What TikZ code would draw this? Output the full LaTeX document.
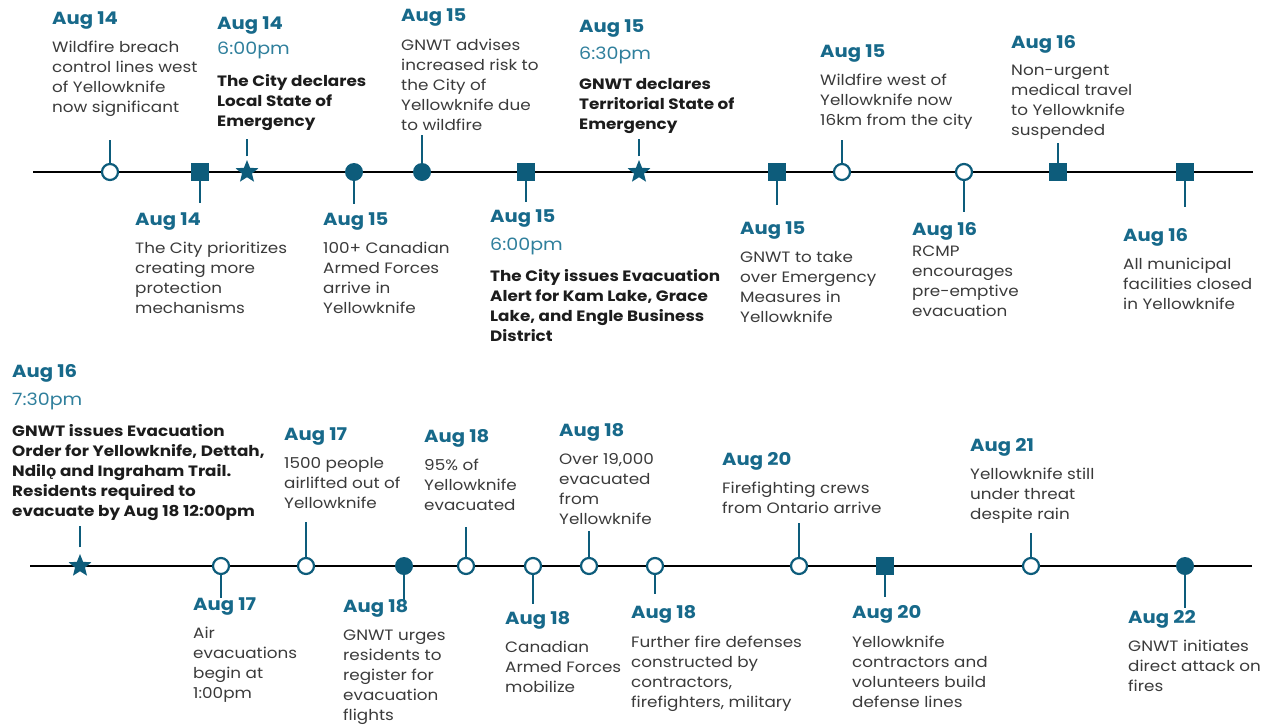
\documentclass[tikz,border=0pt]{standalone}
\usepackage{fontspec}
\setmainfont{Poppins}[FakeStretch=1.12]
\newfontfamily\extfont{DejaVu Sans}
\usetikzlibrary{shapes.geometric, positioning}

\definecolor{markcol}{HTML}{0D5C7B}
\definecolor{datecol}{HTML}{17698A}
\definecolor{timecol}{HTML}{2F7F9C}
\definecolor{bodycol}{HTML}{3A3A3A}
\definecolor{boldcol}{HTML}{1C1C1C}

\tikzstyle{datelbl} = [anchor=west, inner sep=0pt, text height=12pt, text depth=4pt, font=\bfseries\fontsize{17.5}{20}\selectfont, text=datecol]
\tikzstyle{timelbl} = [datelbl, font=\fontsize{17}{20}\selectfont, text=timecol]
\tikzstyle{desc} = [inner sep=0pt, align=left, font=\fontsize{15}{20}\selectfont, text=bodycol]
\tikzstyle{descbold} = [desc, font=\bfseries\fontsize{15}{20}\selectfont, text=boldcol]
\tikzstyle{opendot} = [circle, draw=markcol, fill=white, line width=2.2pt, minimum size=16pt, inner sep=0pt]
\tikzstyle{fulldot} = [circle, fill=markcol, minimum size=18pt, inner sep=0pt]
\tikzstyle{sqmark} = [rectangle, fill=markcol, minimum size=18pt, inner sep=0pt]
\tikzstyle{starmark} = [star, star points=5, star point ratio=2.3, fill=markcol, minimum size=24pt, inner sep=0pt]
\tikzstyle{stemline} = [draw=markcol, line width=2.2pt]
\tikzstyle{axis} = [draw=black, line width=2.5pt]

\begin{document}
\begin{tikzpicture}[x=1pt, y=-1pt, node distance=13pt]
\useasboundingbox (0,0) rectangle (1276,726);

% upper timeline
\coordinate (a1) at (33,172);
\coordinate (a2) at (1253,172);
\draw[axis] (a1) -- (a2);

\node[opendot] (m1) at (110,172) {};
\node[sqmark] (m2) at (200,172) {};
\node[starmark] (m3) at (247,172) {};
\node[fulldot] (m4) at (354,172) {};
\node[fulldot] (m5) at (422,172) {};
\node[sqmark] (m6) at (526,172) {};
\node[starmark] (m7) at (639,172) {};
\node[sqmark] (m8) at (777,172) {};
\node[opendot] (m9) at (842,172) {};
\node[opendot] (m10) at (964,172) {};
\node[sqmark] (m11) at (1058,172) {};
\node[sqmark] (m12) at (1185,172) {};

\draw[stemline] (m1.north) -- ++(0,-23);
\draw[stemline] (m2.south) -- ++(0,22);
\draw[stemline] ([yshift=3pt]m3.north) -- ++(0,-17);
\draw[stemline] (m4.south) -- ++(0,23);
\draw[stemline] (m5.north) -- ++(0,-28);
\draw[stemline] (m6.south) -- ++(0,21);
\draw[stemline] ([yshift=3pt]m7.north) -- ++(0,-17);
\draw[stemline] (m8.south) -- ++(0,24);
\draw[stemline] (m9.north) -- ++(0,-23);
\draw[stemline] (m10.south) -- ++(0,31);
\draw[stemline] (m11.north) -- ++(0,-20);
\draw[stemline] (m12.south) -- ++(0,26);

\node[datelbl] (d1) at (52,20) {Aug 14};
\node[desc, below=of d1.south west, anchor=north west] (t1) {Wildfire breach\\control lines west\\of Yellowknife\\now significant};
\node[datelbl] (d2) at (135,221) {Aug 14};
\node[desc, below=of d2.south west, anchor=north west] (t2) {The City prioritizes\\creating more\\protection\\mechanisms};
\node[datelbl] (d3) at (217,25) {Aug 14};
\node[timelbl, below=9pt of d3.south west, anchor=north west] (h3) {6:00pm};
\node[descbold, below=16pt of h3.south west, anchor=north west] (t3) {The City declares\\Local State of\\Emergency};
\node[datelbl] (d4) at (323,221) {Aug 15};
\node[desc, below=of d4.south west, anchor=north west] (t4) {100+ Canadian\\Armed Forces\\arrive in\\Yellowknife};
\node[datelbl] (d5) at (401,17) {Aug 15};
\node[desc, below=14pt of d5.south west, anchor=north west] (t5) {GNWT advises\\increased risk to\\the City of\\Yellowknife due\\to wildfire};
\node[datelbl] (d6) at (490,218) {Aug 15};
\node[timelbl, below=12pt of d6.south west, anchor=north west] (h6) {6:00pm};
\node[descbold, below=15pt of h6.south west, anchor=north west] (t6) {The City issues Evacuation\\Alert for Kam Lake, Grace\\Lake, and Engle Business\\District};
\node[datelbl] (d7) at (579,28) {Aug 15};
\node[timelbl, below=11pt of d7.south west, anchor=north west] (h7) {6:30pm};
\node[descbold, below=15pt of h7.south west, anchor=north west] (t7) {GNWT declares\\Territorial State of\\Emergency};
\node[datelbl] (d8) at (740,230) {Aug 15};
\node[desc, below=of d8.south west, anchor=north west] (t8) {GNWT to take\\over Emergency\\Measures in\\Yellowknife};
\node[datelbl] (d9) at (820,53) {Aug 15};
\node[desc, below=of d9.south west, anchor=north west] (t9) {Wildfire west of\\Yellowknife now\\16km from the city};
\node[datelbl] (d10) at (912,231) {Aug 16};
\node[desc, below=7pt of d10.south west, anchor=north west] (t10) {RCMP\\encourages\\pre-emptive\\evacuation};
\node[datelbl] (d11) at (1011,44) {Aug 16};
\node[desc, below=of d11.south west, anchor=north west] (t11) {Non-urgent\\medical travel\\to Yellowknife\\suspended};
\node[datelbl] (d12) at (1123,237) {Aug 16};
\node[desc, below=of d12.south west, anchor=north west] (t12) {All municipal\\facilities closed\\in Yellowknife};

% lower timeline
\coordinate (b1) at (30,566);
\coordinate (b2) at (1252,566);
\draw[axis] (b1) -- (b2);

\node[starmark] (n1) at (80,566) {};
\node[opendot] (n2) at (221,566) {};
\node[opendot] (n3) at (306,566) {};
\node[fulldot] (n4) at (404,566) {};
\node[opendot] (n5) at (466,566) {};
\node[opendot] (n6) at (533,566) {};
\node[opendot] (n7) at (589,566) {};
\node[opendot] (n8) at (655,566) {};
\node[opendot] (n9) at (799,566) {};
\node[sqmark] (n10) at (885,566) {};
\node[opendot] (n11) at (1031,566) {};
\node[fulldot] (n12) at (1185,566) {};

\draw[stemline] ([yshift=6pt]n1.north) -- ++(0,-21);
\draw[stemline] (n2.south) -- ++(0,23);
\draw[stemline] (n3.north) -- ++(0,-35);
\draw[stemline] (n4.south) -- ++(0,25);
\draw[stemline] (n5.north) -- ++(0,-30);
\draw[stemline] (n6.south) -- ++(0,29);
\draw[stemline] (n7.north) -- ++(0,-26);
\draw[stemline] (n8.south) -- ++(0,19);
\draw[stemline] (n9.north) -- ++(0,-34);
\draw[stemline] (n10.south) -- ++(0,22);
\draw[stemline] (n11.north) -- ++(0,-24);
\draw[stemline] (n12.south) -- ++(0,33);

\node[datelbl] (e1) at (12,373) {Aug 16};
\node[timelbl, below=12pt of e1.south west, anchor=north west] (k1) {7:30pm};
\node[descbold, below=15pt of k1.south west, anchor=north west] (s1) {GNWT issues Evacuation\\Order for Yellowknife, Dettah,\\Ndil{\extfont ǫ} and Ingraham Trail.\\Residents required to\\evacuate by Aug 18 12:00pm};
\node[datelbl] (e2) at (193,606) {Aug 17};
\node[desc, below=of e2.south west, anchor=north west] (s2) {Air\\evacuations\\begin at\\1:00pm};
\node[datelbl] (e3) at (284,436) {Aug 17};
\node[desc, below=of e3.south west, anchor=north west] (s3) {1500 people\\airlifted out of\\Yellowknife};
\node[datelbl] (e4) at (343,608) {Aug 18};
\node[desc, below=14pt of e4.south west, anchor=north west] (s4) {GNWT urges\\residents to\\register for\\evacuation\\flights};
\node[datelbl] (e5) at (424,438) {Aug 18};
\node[desc, below=of e5.south west, anchor=north west] (s5) {95\% of\\Yellowknife\\evacuated};
\node[datelbl] (e6) at (505,620) {Aug 18};
\node[desc, below=of e6.south west, anchor=north west] (s6) {Canadian\\Armed Forces\\mobilize};
\node[datelbl] (e7) at (559,432) {Aug 18};
\node[desc, below=of e7.south west, anchor=north west] (s7) {Over 19,000\\evacuated\\from\\Yellowknife};
\node[datelbl] (e8) at (631,614) {Aug 18};
\node[desc, below=14pt of e8.south west, anchor=north west] (s8) {Further fire defenses\\constructed by\\contractors,\\firefighters, military};
\node[datelbl] (e9) at (722,461) {Aug 20};
\node[desc, below=of e9.south west, anchor=north west] (s9) {Firefighting crews\\from Ontario arrive};
\node[datelbl] (e10) at (852,614) {Aug 20};
\node[desc, below=14pt of e10.south west, anchor=north west] (s10) {Yellowknife\\contractors and\\volunteers build\\defense lines};
\node[datelbl] (e11) at (970,447) {Aug 21};
\node[desc, below=of e11.south west, anchor=north west] (s11) {Yellowknife still\\under threat\\despite rain};
\node[datelbl] (e12) at (1128,619) {Aug 22};
\node[desc, below=of e12.south west, anchor=north west] (s12) {GNWT initiates\\direct attack on\\fires};
\end{tikzpicture}
\end{document}
